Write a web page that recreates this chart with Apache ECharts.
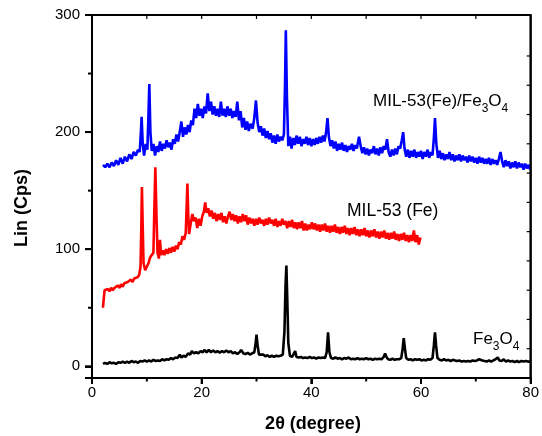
<!DOCTYPE html>
<html>
<head>
<meta charset="utf-8">
<title>XRD patterns</title>
<script src="https://cdn.jsdelivr.net/npm/echarts@6/dist/echarts.min.js"></script>
<style>html,body{margin:0;padding:0;background:#fff}#c{width:542px;height:436px}</style>
</head>
<body>
<div id="c"></div>
<script>
// tick values
const xMajorTicks = [0, 20, 40, 60, 80];
const xMinorTicks = [10, 30, 50, 70];
const xTopTicks = [10, 20, 30, 40, 50, 60, 70];
const yMajorTicks = [0, 100, 200, 300];
const yMinorTicks = [50, 150, 250];
const yRightTicks = [15, 40, 65, 90, 115, 140, 165, 190, 215, 240, 265];

// series label parts: [main, subscript, main, subscript]
const blueLabel = ['MIL-53(Fe)/Fe', '3', 'O', '4'];
const redLabel = 'MIL-53 (Fe)';
const blackLabel = ['Fe', '3', 'O', '4'];
const xTitle = '2θ (degree)';
const yTitle = 'Lin (Cps)';

// 2θ (degree), intensity (Cps) pairs
const blueData = [[2.0,172],[2.4,170],[2.8,173],[3.2,170],[3.6,174],[4.0,171],[4.4,176],[4.8,172],[5.2,178],[5.6,173],[6.0,179],[6.4,175],[6.8,181],[7.2,177],[7.6,183],[8.0,180],[8.4,185],[8.7,183],[8.9,198],[9.05,213],[9.25,190],[9.5,180],[9.8,190],[10.1,185],[10.3,215],[10.45,241],[10.65,200],[10.9,184],[11.2,190],[11.5,180],[11.8,188],[12.1,183],[12.4,192],[12.7,184],[13.0,190],[13.3,186],[13.6,193],[13.9,187],[14.2,191],[14.5,185],[14.8,194],[15.1,190],[15.4,198],[15.7,192],[16.0,200],[16.3,209],[16.6,196],[16.9,204],[17.2,198],[17.5,206],[17.8,200],[18.1,210],[18.4,206],[18.7,220],[19.0,212],[19.3,224],[19.6,214],[19.9,220],[20.2,212],[20.5,222],[20.8,216],[21.1,233],[21.4,218],[21.7,226],[22.0,215],[22.3,222],[22.6,214],[22.9,220],[23.2,213],[23.5,226],[23.8,214],[24.1,220],[24.4,213],[24.7,222],[25.0,214],[25.3,220],[25.6,212],[25.9,218],[26.2,213],[26.5,226],[26.8,210],[27.1,218],[27.4,204],[27.7,212],[28.0,202],[28.3,209],[28.6,201],[28.9,207],[29.3,203],[29.6,212],[29.9,227],[30.2,208],[30.5,200],[30.8,205],[31.1,197],[31.4,203],[31.7,195],[32.0,201],[32.3,194],[32.6,199],[32.9,191],[33.2,197],[33.5,190],[33.8,198],[34.1,192],[34.4,196],[34.7,193],[35.0,198],[35.2,240],[35.35,287],[35.55,230],[35.8,188],[36.1,196],[36.4,186],[36.7,195],[37.0,189],[37.3,197],[37.6,190],[37.9,196],[38.2,188],[38.5,194],[38.8,190],[39.1,196],[39.4,189],[39.7,195],[40.0,188],[40.3,194],[40.6,189],[40.9,195],[41.2,190],[41.5,196],[41.8,191],[42.1,197],[42.4,192],[42.7,200],[42.95,212],[43.2,196],[43.5,188],[43.8,193],[44.1,186],[44.4,192],[44.7,184],[45.0,190],[45.3,185],[45.6,191],[45.9,184],[46.2,189],[46.5,183],[46.8,188],[47.1,185],[47.4,190],[47.7,184],[48.0,189],[48.3,186],[48.7,196],[49.0,188],[49.3,182],[49.6,187],[49.9,181],[50.2,186],[50.5,180],[50.8,185],[51.1,182],[51.4,188],[51.7,181],[52.0,186],[52.3,180],[52.6,187],[52.9,182],[53.2,188],[53.5,185],[53.8,194],[54.1,183],[54.4,179],[54.7,185],[55.0,180],[55.3,186],[55.6,181],[55.9,188],[56.2,186],[56.5,193],[56.75,200],[57.0,186],[57.3,179],[57.6,185],[57.9,178],[58.2,184],[58.5,179],[58.8,185],[59.1,178],[59.4,183],[59.7,179],[60.0,184],[60.3,177],[60.6,183],[60.9,179],[61.2,185],[61.5,178],[61.8,183],[62.1,180],[62.35,195],[62.55,212],[62.8,190],[63.1,178],[63.4,184],[63.7,177],[64.0,182],[64.3,176],[64.6,181],[64.9,177],[65.2,183],[65.5,176],[65.8,181],[66.1,175],[66.4,180],[66.7,176],[67.0,181],[67.3,175],[67.6,180],[67.9,176],[68.2,179],[68.5,174],[68.8,180],[69.1,175],[69.4,179],[69.7,174],[70.0,178],[70.3,173],[70.6,179],[70.9,174],[71.2,178],[71.5,173],[71.8,177],[72.1,173],[72.4,178],[72.7,172],[73.0,177],[73.3,173],[73.6,176],[73.9,172],[74.2,177],[74.5,183],[74.8,175],[75.1,170],[75.4,176],[75.7,171],[76.0,175],[76.3,169],[76.6,174],[76.9,170],[77.2,175],[77.5,169],[77.8,174],[78.1,170],[78.4,173],[78.7,168],[79.0,173],[79.3,169],[79.6,172],[79.9,168]];

const redData = [[2.0,50],[2.15,58],[2.3,65],[2.6,64],[2.9,66],[3.2,64],[3.5,67],[3.8,65],[4.1,67],[4.4,66],[4.7,69],[5.0,67],[5.3,70],[5.6,68],[5.9,71],[6.2,70],[6.5,72],[6.8,71],[7.1,74],[7.4,72],[7.7,75],[8.0,74],[8.3,76],[8.6,78],[8.85,85],[9.0,120],[9.1,153],[9.25,120],[9.4,88],[9.7,82],[10.0,85],[10.3,88],[10.6,93],[10.9,95],[11.2,97],[11.35,130],[11.55,170],[11.75,130],[11.95,97],[12.2,92],[12.4,108],[12.6,95],[12.9,99],[13.2,95],[13.5,100],[13.8,96],[14.1,101],[14.4,97],[14.7,102],[15.0,98],[15.3,103],[15.6,100],[15.9,106],[16.2,104],[16.5,111],[16.8,108],[17.1,114],[17.25,135],[17.4,156],[17.55,130],[17.7,113],[18.0,122],[18.3,130],[18.6,124],[18.9,127],[19.2,118],[19.5,126],[19.8,120],[20.1,128],[20.4,132],[20.65,140],[20.9,131],[21.2,135],[21.5,128],[21.8,133],[22.1,126],[22.4,131],[22.7,124],[23.0,130],[23.3,125],[23.6,131],[23.9,123],[24.2,128],[24.5,122],[24.8,128],[25.1,132],[25.4,125],[25.7,130],[26.0,124],[26.3,129],[26.6,122],[26.9,128],[27.2,123],[27.5,130],[27.8,124],[28.1,129],[28.4,121],[28.7,127],[29.0,122],[29.3,126],[29.6,120],[29.9,126],[30.2,121],[30.5,127],[30.8,122],[31.1,125],[31.4,120],[31.7,126],[32.0,121],[32.3,127],[32.6,122],[32.9,125],[33.2,120],[33.5,126],[33.8,119],[34.1,124],[34.4,120],[34.7,126],[35.0,121],[35.3,124],[35.6,118],[35.9,124],[36.2,119],[36.5,125],[36.8,118],[37.1,123],[37.4,117],[37.7,123],[38.0,118],[38.3,124],[38.6,116],[38.9,122],[39.2,116],[39.5,121],[39.8,117],[40.1,123],[40.4,117],[40.7,122],[41.0,116],[41.3,121],[41.6,115],[41.9,121],[42.2,116],[42.5,122],[42.8,115],[43.1,120],[43.4,114],[43.7,120],[44.0,115],[44.3,121],[44.6,114],[44.9,119],[45.2,113],[45.5,119],[45.8,114],[46.1,120],[46.4,113],[46.7,118],[47.0,112],[47.3,118],[47.6,113],[47.9,119],[48.2,112],[48.5,117],[48.8,111],[49.1,117],[49.4,112],[49.7,118],[50.0,111],[50.3,116],[50.6,110],[50.9,116],[51.2,111],[51.5,117],[51.8,110],[52.1,115],[52.4,109],[52.7,115],[53.0,110],[53.3,116],[53.6,109],[53.9,114],[54.2,108],[54.5,114],[54.8,109],[55.1,115],[55.4,108],[55.7,113],[56.0,107],[56.3,113],[56.6,108],[56.9,114],[57.2,107],[57.5,112],[57.8,106],[58.1,112],[58.4,107],[58.7,116],[59.0,106],[59.3,112],[59.6,104],[59.9,110]];

const blackData = [[2.0,2],[2.4,3],[2.8,2],[3.2,3.5],[3.6,2.5],[4.0,3],[4.4,2],[4.8,3.5],[5.2,3],[5.6,4],[6.0,3],[6.4,4],[6.8,3],[7.2,4.5],[7.6,3.5],[8.0,4],[8.4,3],[8.8,4.5],[9.2,4],[9.6,5],[10.0,4],[10.4,5],[10.8,4],[11.2,5.5],[11.6,4.5],[12.0,5],[12.4,4.5],[12.8,6],[13.2,5],[13.6,6],[14.0,5.5],[14.4,7],[14.8,6],[15.2,7.5],[15.6,7],[16.0,10],[16.3,7.5],[16.7,9],[17.1,8],[17.5,11],[17.9,10],[18.2,13],[18.6,11],[19.0,12],[19.4,11],[19.8,13],[20.2,12],[20.5,14],[20.9,12],[21.3,14],[21.7,12],[22.1,13.5],[22.5,12],[22.9,13],[23.3,11.5],[23.7,13],[24.1,12],[24.5,13.5],[24.9,12],[25.3,13],[25.7,11],[26.1,12],[26.5,10.5],[26.9,12],[27.2,14],[27.6,11],[28.0,10.5],[28.4,11.5],[28.8,10],[29.2,11],[29.6,12],[29.85,20],[30.0,27],[30.2,18],[30.45,10],[30.8,9],[31.2,10],[31.6,8.5],[32.0,9.5],[32.4,8],[32.8,9],[33.2,8],[33.6,9],[34.0,8.5],[34.4,9],[34.8,10],[35.1,30],[35.3,70],[35.45,86],[35.6,60],[35.8,20],[36.1,9],[36.5,8],[36.8,9],[37.05,13],[37.3,8],[37.7,7.5],[38.1,8],[38.5,7],[38.9,7.5],[39.3,7],[39.7,8],[40.1,7],[40.5,7.5],[40.9,6.5],[41.3,7.5],[41.7,7],[42.1,7.5],[42.5,7],[42.8,12],[43.05,29],[43.3,12],[43.6,7],[44.0,6.5],[44.4,7.5],[44.8,6.5],[45.2,7],[45.6,6],[46.0,7],[46.4,6.5],[46.8,7.5],[47.2,6],[47.6,6.5],[48.0,6],[48.4,7],[48.8,6],[49.2,6.5],[49.6,6],[50.0,7],[50.4,6],[50.8,6.5],[51.2,5.5],[51.6,6.5],[52.0,6],[52.4,6.5],[52.8,6],[53.2,8],[53.45,11],[53.7,8],[54.0,6],[54.4,5.5],[54.8,6.5],[55.2,5.5],[55.6,6],[56.0,6],[56.4,7],[56.65,15],[56.85,24],[57.05,16],[57.3,7],[57.7,5.5],[58.1,6],[58.5,5],[58.9,6],[59.3,5.5],[59.7,6],[60.1,5],[60.5,5.5],[60.9,5],[61.3,6],[61.7,5.5],[62.1,7],[62.35,18],[62.55,29],[62.75,18],[63.0,7],[63.4,5.5],[63.8,5],[64.2,6],[64.6,5],[65.0,5.5],[65.4,4.5],[65.8,5.5],[66.2,5],[66.6,4.5],[67.0,5],[67.4,4],[67.8,4.5],[68.2,4],[68.6,4.5],[69.0,4],[69.4,5],[69.8,4.5],[70.2,5],[70.6,6],[70.9,7],[71.2,5],[71.6,4.5],[72.0,4],[72.4,5],[72.8,4],[73.2,5],[73.6,6],[74.0,7.5],[74.3,5],[74.7,4.5],[75.1,6],[75.5,4],[75.9,5],[76.3,4],[76.7,4.5],[77.1,3.5],[77.5,4.5],[77.9,3.5],[78.3,4.5],[78.7,4],[79.1,4.5],[79.5,4],[79.9,4]];

const FONT = 'Liberation Sans, Arial, sans-serif';
const MAIN_FONT = '17px ' + FONT;
const SUB_FONT = '12px ' + FONT;

const measureCtx = document.createElement('canvas').getContext('2d');
function textWidth(t, font) { measureCtx.font = font; return measureCtx.measureText(t).width; }
function subLabel(parts, x0, yMid) {
  const out = [];
  let x = x0;
  parts.forEach(function (t, i) {
    const isSub = i % 2 === 1;
    const font = isSub ? SUB_FONT : MAIN_FONT;
    out.push({type: 'text', x: x, y: isSub ? yMid + 8 : yMid,
      style: {text: t, font: font, fill: '#000', align: 'left', verticalAlign: 'middle'}});
    x += textWidth(t, font);
  });
  return out;
}

const texts = [
  {type: 'text', x: 22, y: 208, rotation: Math.PI / 2,
   style: {text: yTitle, font: 'bold 18px ' + FONT, fill: '#000', align: 'center', verticalAlign: 'middle'}},
  {type: 'text', x: 313, y: 424,
   style: {text: xTitle, font: 'bold 18px ' + FONT, fill: '#000', align: 'center', verticalAlign: 'middle'}},
  {type: 'text', x: 347, y: 211,
   style: {text: redLabel, font: '17.5px ' + FONT, fill: '#000', align: 'left', verticalAlign: 'middle'}}
].concat(subLabel(blueLabel, 373, 101), subLabel(blackLabel, 473, 339));

const chart = echarts.init(document.getElementById('c'), null, {renderer: 'canvas'});
chart.setOption({
  animation: false,
  backgroundColor: '#ffffff',
  grid: {left: 92, right: 7, top: 15, bottom: 58, show: true,
         borderColor: '#000000', borderWidth: 2, backgroundColor: '#ffffff'},
  xAxis: {type: 'value', min: 0, max: 80, interval: 20,
    axisLine: {show: true, onZero: false, lineStyle: {color: '#000000', width: 2}},
    axisTick: {show: true, length: 6, lineStyle: {color: '#000000', width: 2}},
    axisLabel: {fontSize: 15, color: '#000000', margin: 7},
    splitLine: {show: false}},
  yAxis: {type: 'value', min: -10, max: 300, splitNumber: 3,
    axisLine: {show: true, onZero: false, lineStyle: {color: '#000000', width: 2}},
    axisTick: {show: true, length: 7, lineStyle: {color: '#000000', width: 2}},
    axisLabel: {fontSize: 15, color: '#000000', margin: 12,
                formatter: function (v) { return v < 0 ? '' : String(v); }},
    splitLine: {show: false}},
  series: [
    {type: 'line', data: blueData, showSymbol: false, lineStyle: {color: '#0000ff', width: 2.6}, itemStyle: {color: '#0000ff'}},
    {type: 'line', data: redData, showSymbol: false, lineStyle: {color: '#ff0000', width: 2.6}, itemStyle: {color: '#ff0000'}},
    {type: 'line', data: blackData, showSymbol: false, lineStyle: {color: '#000000', width: 2.6}, itemStyle: {color: '#000000'}}
  ],
  graphic: texts
});

// extra frame ticks placed through the chart's own scales
try {
  const px = function (v) { return chart.convertToPixel({xAxisIndex: 0}, v); };
  const py = function (v) { return chart.convertToPixel({yAxisIndex: 0}, v); };
  const xL = px(0), xR = px(80), yB = py(-10), yT = py(300);
  const seg = function (x1, y1, x2, y2, w) {
    return {type: 'line', z: 100, shape: {x1: x1, y1: y1, x2: x2, y2: y2},
            style: {stroke: '#000000', lineWidth: w}};
  };
  const ticks = [
    seg(xL, yT, xR, yT, 2), seg(xR, yT, xR, yB, 2),
    seg(xL, yT, xL, yB, 2), seg(xL, yB, xR, yB, 2)
  ];
  xMajorTicks.forEach(function (v) { ticks.push(seg(px(v), yB, px(v), yB + 6, 2)); });
  xMinorTicks.forEach(function (v) { ticks.push(seg(px(v), yB, px(v), yB + 3.5, 2)); });
  xTopTicks.forEach(function (v) { ticks.push(seg(px(v), yT, px(v), yT + 4, 1.2)); });
  yMajorTicks.forEach(function (v) { ticks.push(seg(xL - 7, py(v), xL, py(v), 2)); });
  yMinorTicks.forEach(function (v) { ticks.push(seg(xL - 4, py(v), xL, py(v), 2)); });
  yRightTicks.forEach(function (v) { ticks.push(seg(xR - 4, py(v), xR, py(v), 1.2)); });
  chart.setOption({graphic: texts.concat(ticks)});
} catch (e) {
  console.error(e);
}
</script>
</body>
</html>
